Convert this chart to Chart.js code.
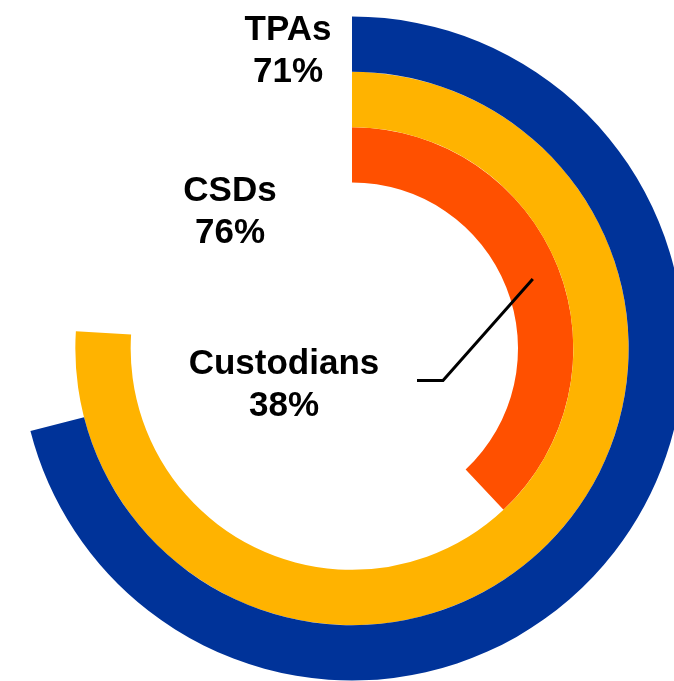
<!DOCTYPE html>
<html>
<head>
<meta charset="utf-8">
<script src="https://cdn.jsdelivr.net/npm/chart.js@4/dist/chart.umd.min.js"></script>
<style>
  html, body { margin: 0; padding: 0; background: #ffffff; overflow: hidden; }
  #wrap { width: 674px; height: 681px; }
</style>
</head>
<body>
<div id="wrap"><canvas id="c" width="674" height="681"></canvas></div>
<script>
// ---- data ----
const categories = ['TPAs', 'CSDs', 'Custodians'];
const percentValues = [71, 76, 38];
const ringColors = ['#003399', '#FFB300', '#FF5000'];

const datasets = categories.map((name, i) => ({
  label: name,
  data: [percentValues[i], 100 - percentValues[i]],
  backgroundColor: [ringColors[i], 'rgba(0,0,0,0)'],
  borderWidth: 0,
  hoverOffset: 0,
  hoverBackgroundColor: [ringColors[i], 'rgba(0,0,0,0)']
}));

// label placement (offsets from chart centre, style only)
const labelOffsets = [
  { dx: -64, dy: -309 },  // TPAs
  { dx: -122, dy: -148 }, // CSDs
  { dx: -68, dy: 25 }     // Custodians
];

const labelPlugin = {
  id: 'ringLabels',
  afterDatasetsDraw(chart) {
    const ctx = chart.ctx;
    const arc0 = chart.getDatasetMeta(0).data[0];
    const cx = arc0.x, cy = arc0.y;
    ctx.save();
    ctx.fillStyle = '#000000';
    ctx.font = 'bold 35px "Liberation Sans", Arial, sans-serif';
    ctx.textAlign = 'center';
    ctx.textBaseline = 'alphabetic';
    categories.forEach((name, i) => {
      const o = labelOffsets[i];
      ctx.fillText(name, cx + o.dx, cy + o.dy);
      ctx.fillText(percentValues[i] + '%', cx + o.dx, cy + o.dy + 42);
    });
    // leader line from Custodians label to its ring
    const innerArc = chart.getDatasetMeta(2).data[0];
    const rMid = innerArc.innerRadius + 0.5 * (innerArc.outerRadius - innerArc.innerRadius);
    const ang = 69 * Math.PI / 180;
    const ex = cx + rMid * Math.sin(ang);
    const ey = cy - rMid * Math.cos(ang);
    ctx.strokeStyle = '#000000';
    ctx.lineWidth = 3;
    ctx.lineCap = 'butt';
    ctx.beginPath();
    ctx.moveTo(cx + 65, cy + 32);
    ctx.lineTo(cx + 91, cy + 32);
    ctx.lineTo(ex, ey);
    ctx.stroke();
    ctx.restore();
  }
};

new Chart(document.getElementById('c'), {
  type: 'doughnut',
  data: { labels: ['value', 'rest'], datasets },
  options: {
    responsive: false,
    animation: false,
    radius: 332,
    cutout: '50%',
    layout: { padding: { left: 30, top: 16, right: 0, bottom: 0 } },
    plugins: {
      legend: { display: false },
      tooltip: { enabled: false }
    },
    events: []
  },
  plugins: [labelPlugin]
});
</script>
</body>
</html>
